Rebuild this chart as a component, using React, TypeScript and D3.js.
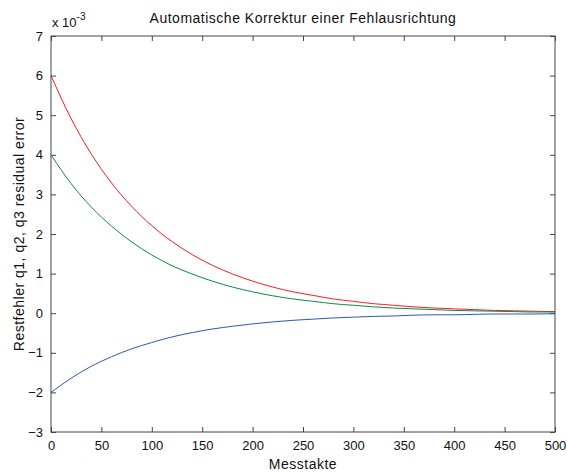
import React, { useEffect, useRef } from 'react';
import * as d3 from 'd3';

// Messtakte (sampled every 20 steps)
const steps = [0, 20, 40, 60, 80, 100, 120, 140, 160, 180, 200, 220, 240, 260, 280, 300, 320, 340, 360, 380, 400, 420, 440, 460, 480, 500];

// residual error, in units of 1e-3
const q1 = [6, 4.91, 4.02, 3.29, 2.7, 2.21, 1.81, 1.48, 1.21, 0.99, 0.81, 0.66, 0.54, 0.45, 0.36, 0.3, 0.24, 0.2, 0.16, 0.13, 0.11, 0.09, 0.07, 0.06, 0.05, 0.04];
const q2 = [4, 3.27, 2.68, 2.2, 1.8, 1.47, 1.2, 0.99, 0.81, 0.66, 0.54, 0.44, 0.36, 0.3, 0.24, 0.2, 0.16, 0.13, 0.11, 0.09, 0.07, 0.06, 0.05, 0.04, 0.03, 0.03];
const q3 = [-2, -1.64, -1.34, -1.1, -0.9, -0.74, -0.6, -0.49, -0.4, -0.33, -0.27, -0.22, -0.18, -0.15, -0.12, -0.1, -0.08, -0.07, -0.05, -0.04, -0.04, -0.03, -0.02, -0.02, -0.02, -0.01];

const xTicks = [0, 50, 100, 150, 200, 250, 300, 350, 400, 450, 500];
const yTicks = [-3, -2, -1, 0, 1, 2, 3, 4, 5, 6, 7];

const series = [
  { name: 'q1', values: q1, color: '#ff1a1a' },
  { name: 'q2', values: q2, color: '#108a40' },
  { name: 'q3', values: q3, color: '#2a56c4' },
];

export default function App() {
  const ref = useRef<SVGSVGElement>(null);

  useEffect(() => {
    const width = 567;
    const height = 473;
    const margin = { top: 36, left: 51, bottom: 41, right: 12 };
    const iwidth = width - margin.left - margin.right;
    const iheight = height - margin.top - margin.bottom;
    const font = 'Liberation Sans, Arial, sans-serif';
    const axisColor = '#444';

    const svg = d3.select(ref.current);
    svg.selectAll('*').remove();
    svg.attr('width', width).attr('height', height);

    svg.append('rect').attr('width', width).attr('height', height).attr('fill', '#fff');

    const g = svg.append('g').attr('transform', `translate(${margin.left},${margin.top})`);

    const x = d3.scaleLinear().domain([0, 500]).range([0, iwidth]);
    const y = d3.scaleLinear().domain([-3, 7]).range([iheight, 0]);

    const styleAxis = (sel: any) => {
      sel.select('.domain').remove();
      sel.selectAll('line').attr('stroke', axisColor);
      sel.selectAll('text').attr('font-family', font).attr('font-size', 13).attr('fill', '#111');
    };

    // bottom + top
    g.append('g')
      .attr('transform', `translate(0,${iheight})`)
      .call(d3.axisBottom(x).tickValues(xTicks).tickSize(-5).tickPadding(9).tickFormat(d3.format('d')))
      .call(styleAxis);
    g.append('g')
      .call(d3.axisTop(x).tickValues(xTicks).tickSize(-5).tickFormat(() => ''))
      .call(styleAxis);

    // left + right
    g.append('g')
      .call(d3.axisLeft(y).tickValues(yTicks).tickSize(-5).tickPadding(8).tickFormat(d3.format('d')))
      .call(styleAxis);
    g.append('g')
      .attr('transform', `translate(${iwidth},0)`)
      .call(d3.axisRight(y).tickValues(yTicks).tickSize(-5).tickFormat(() => ''))
      .call(styleAxis);

    const line = d3
      .line<number>()
      .x((d, i) => x(steps[i]))
      .y((d) => y(d))
      .curve(d3.curveMonotoneX);

    series.forEach((s) => {
      g.append('path')
        .datum(s.values)
        .attr('fill', 'none')
        .attr('stroke', s.color)
        .attr('stroke-width', 1)
        .attr('d', line);
    });

    // axes box
    g.append('rect')
      .attr('width', iwidth)
      .attr('height', iheight)
      .attr('fill', 'none')
      .attr('stroke', axisColor)
      .attr('stroke-width', 1);

    // exponent label
    const exp = svg.append('text')
      .attr('x', margin.left + 1)
      .attr('y', 27)
      .attr('font-family', font)
      .attr('font-size', 13)
      .attr('fill', '#111');
    exp.append('tspan').text('x 10');
    exp.append('tspan').attr('dy', -7).attr('font-size', 10).text('-3');

    const label = (sel: any) =>
      sel
        .attr('text-anchor', 'middle')
        .attr('font-family', font)
        .attr('font-size', 14)
        .attr('letter-spacing', 0.5)
        .attr('fill', '#111');

    svg.append('text')
      .attr('x', margin.left + iwidth / 2)
      .attr('y', 23)
      .call(label)
      .text('Automatische Korrektur einer Fehlausrichtung');

    svg.append('text')
      .attr('x', margin.left + iwidth / 2)
      .attr('y', 469)
      .call(label)
      .text('Messtakte');

    svg.append('text')
      .attr('transform', `translate(24,${margin.top + iheight / 2}) rotate(-90)`)
      .call(label)
      .text('Restfehler q1, q2, q3 residual error');
  }, []);

  return (
    <div style={{ position: 'absolute', left: 0, top: 0 }}>
      <svg ref={ref}></svg>
    </div>
  );
}
